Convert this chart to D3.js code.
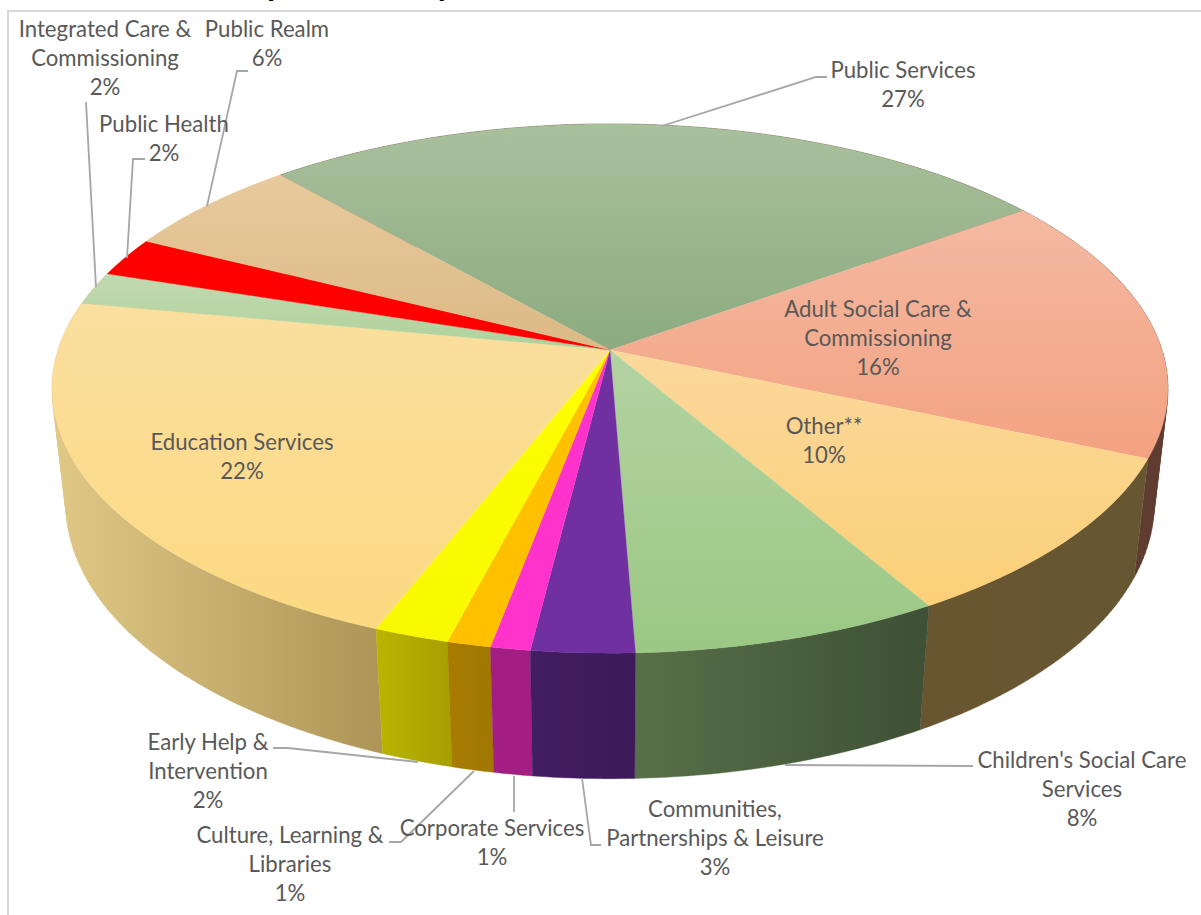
<!DOCTYPE html>
<html>
<head>
<meta charset="utf-8">
<script src="https://cdnjs.cloudflare.com/ajax/libs/d3/7.9.0/d3.min.js"></script>
<style>
  html, body { margin: 0; padding: 0; background: #fff; overflow: hidden; }
  svg { display: block; }
  text { font-family: Lato, "Open Sans", sans-serif; }
</style>
</head>
<body>
<svg id="chart" width="1201" height="915"></svg>
<script>
// Share of spend by service, clockwise from the Public Services slice.
const services = [
  "Public Services", "Adult Social Care & Commissioning", "Other**",
  "Children's Social Care Services", "Communities, Partnerships & Leisure",
  "Corporate Services", "Culture, Learning & Libraries", "Early Help & Intervention",
  "Education Services", "Integrated Care & Commissioning", "Public Health", "Public Realm"
];
const spendShare = [26.6, 16.4, 10.1, 7.8, 2.6, 1.0, 1.1, 1.9, 22.0, 2.0, 2.4, 6.1];

// Label text broken into the lines it is set on.
const labelLines = [
  ["Public Services"], ["Adult Social Care &", "Commissioning"], ["Other**"],
  ["Children's Social Care", "Services"], ["Communities,", "Partnerships & Leisure"],
  ["Corporate Services"], ["Culture, Learning &", "Libraries"], ["Early Help &", "Intervention"],
  ["Education Services"], ["Integrated Care &", "Commissioning"], ["Public Health"], ["Public Realm"]
];

// Label anchors: centre x and first baseline.
const labelAnchors = [
  [903, 78], [878, 317], [824, 434], [1082, 768], [715, 817], [492, 836],
  [290, 843], [208, 750], [242, 450], [105, 37], [164, 132], [267, 37]
];

// Leader polylines, by service index.
const leaders = [
  [0, [[827, 77], [816, 77], [662, 126]]],
  [3, [[973, 766], [785, 765]]],
  [4, [[601, 845], [591, 845], [582, 778]]],
  [5, [[514, 812], [514, 776]]],
  [6, [[389, 842], [401, 842], [474, 771]]],
  [7, [[273, 748], [288, 748], [418, 762]]],
  [9, [[86, 102], [96, 287]]],
  [10, [[145, 159], [133, 159], [127, 258]]],
  [11, [[248, 71], [237, 71], [207, 206]]]
];

// Top-face gradient (upper, lower) and wall shade (start, end of the arc).
const topColors = [
  ["#a9c09d", "#8cab80"], ["#f4b9a2", "#f3a281"], ["#fbd89c", "#fbd077"],
  ["#b3d3a2", "#9bc884"], ["#7030a0", "#7030a0"], ["#ff33cc", "#ff33cc"],
  ["#ffc000", "#ffc000"], ["#ffff00", "#f8f800"], ["#fbdf9f", "#fcd981"],
  ["#c2d9b0", "#aed29b"], ["#ff0000", "#ff0000"], ["#e8ca9e", "#dcb985"]
];
const wallColors = [
  ["#5f3f30", "#5f3f30"], ["#5f3f33", "#603c30"], ["#665632", "#695631"],
  ["#3e5035", "#587049"], ["#3c1a58", "#421d62"], ["#a21e83", "#a21e83"],
  ["#a07800", "#a87c00"], ["#a8a000", "#bab500"], ["#ae9658", "#e0c886"],
  ["#e0c886", "#e0c886"], ["#e0c886", "#e0c886"], ["#e0c886", "#e0c886"]
];

// Perspective pie: constants of the projected top disc and of the lower rim.
const cx = 610, cy = 350;
const radiusX = 552, radiusY = 259, perspective = 0.1456;
const rimDepth = 1.025, rimDrop = 118;

function topPoint(theta, rho = 1) {
  const w = 1 + perspective * rho * Math.cos(theta);
  return [cx + radiusX * rho * Math.sin(theta) / w,
          cy - radiusY * rho * Math.cos(theta) / w];
}
function rimPoint(theta) {
  const w = rimDepth + perspective * Math.cos(theta);
  return [cx + radiusX * Math.sin(theta) / w,
          cy - (radiusY * Math.cos(theta) - rimDrop) / w];
}

const startAngle = -41.5 * Math.PI / 180;
const pie = d3.pie().sort(null)
  .startAngle(startAngle).endAngle(startAngle + 2 * Math.PI);
const slices = pie(spendShare).map((a, i) => ({ ...a, i }));
const total = d3.sum(spendShare);
const pct = d3.format(".0%");

const svg = d3.select("#chart");
const defs = svg.append("defs");
const line = d3.line();

// Chart frame
svg.append("rect").attr("x", 7).attr("y", 10).attr("width", 2).attr("height", 905).attr("fill", "#d9d9d9");
svg.append("rect").attr("x", 7).attr("y", 10).attr("width", 1194).attr("height", 2).attr("fill", "#d9d9d9");

// Title, its head running off the top of the page
const title = svg.append("text").attr("y", -4)
  .attr("font-size", 33).attr("font-weight", 700).attr("fill", "#000")
  .text("Expenditure by");
title.attr("x", 267 - title.node().getStartPositionOfChar(2).x);

// Outer wall: one path per slice, the union of quads swept along its arc,
// shaded left to right with a gradient across the slice's extent.
const arcStep = Math.PI / 180;
function wallQuads(s) {
  const n = Math.max(1, Math.ceil((s.endAngle - s.startAngle) / arcStep));
  const t = d3.scaleLinear().domain([0, n]).range([s.startAngle, s.endAngle]);
  return d3.range(n).map(k => {
    const q = [topPoint(t(k)), topPoint(t(k + 1)), rimPoint(t(k + 1)), rimPoint(t(k))];
    return d3.polygonArea(q) < 0 ? q.reverse() : q;
  });
}
const walls = slices.map(s => {
  const quads = wallQuads(s);
  const xs = quads.flat().map(p => p[0]);
  const x1 = topPoint(s.startAngle)[0];
  const [lo, hi] = d3.extent(xs);
  const x2 = Math.abs(hi - x1) > Math.abs(x1 - lo) ? hi : lo;
  const g = defs.append("linearGradient").attr("id", "wall" + s.i)
    .attr("gradientUnits", "userSpaceOnUse")
    .attr("x1", x1).attr("y1", 0).attr("x2", x2).attr("y2", 0);
  g.append("stop").attr("offset", 0).attr("stop-color", wallColors[s.i][0]);
  g.append("stop").attr("offset", 1).attr("stop-color", wallColors[s.i][1]);
  return { i: s.i, quads, front: Math.cos((s.startAngle + s.endAngle) / 2) };
}).sort((p, q) => q.front - p.front);

svg.append("g").selectAll("path").data(walls).join("path")
  .attr("d", w => w.quads.map(q => line(q) + "Z").join(""))
  .attr("fill", w => `url(#wall${w.i})`)
  .attr("stroke", w => `url(#wall${w.i})`)
  .attr("stroke-width", 0.4);

// Top face
slices.forEach(s => {
  const g = defs.append("linearGradient").attr("id", "top" + s.i)
    .attr("x1", 0).attr("y1", 0).attr("x2", 0).attr("y2", 1);
  g.append("stop").attr("offset", 0).attr("stop-color", topColors[s.i][0]);
  g.append("stop").attr("offset", 1).attr("stop-color", topColors[s.i][1]);
});
svg.append("g").selectAll("path").data(slices).join("path")
  .attr("d", s => {
    const n = Math.ceil((s.endAngle - s.startAngle) / (arcStep / 2));
    const t = d3.scaleLinear().domain([0, n]).range([s.startAngle, s.endAngle]);
    return line([[cx, cy], ...d3.range(n + 1).map(k => topPoint(t(k)))]) + "Z";
  })
  .attr("fill", s => `url(#top${s.i})`)
  .attr("stroke", s => `url(#top${s.i})`)
  .attr("stroke-width", 0.3);

// Leader lines
svg.append("g").selectAll("path").data(leaders).join("path")
  .attr("d", d => line(d[1]))
  .attr("fill", "none").attr("stroke", "#a6a6a6").attr("stroke-width", 1.8);

// Data labels: name lines, then the share of the total
const labels = svg.append("g").attr("fill", "#595959").attr("font-size", 22.2)
  .attr("text-anchor", "middle")
  .selectAll("text").data(slices).join("text")
  .attr("data-service", s => services[s.i]);
labels.each(function (s) {
  const rows = [...labelLines[s.i], pct(s.value / total)];
  const [x, y] = labelAnchors[s.i];
  d3.select(this).selectAll("tspan").data(rows).join("tspan")
    .attr("x", x).attr("y", (_, r) => y + r * 29).text(d => d);
});
</script>
</body>
</html>
